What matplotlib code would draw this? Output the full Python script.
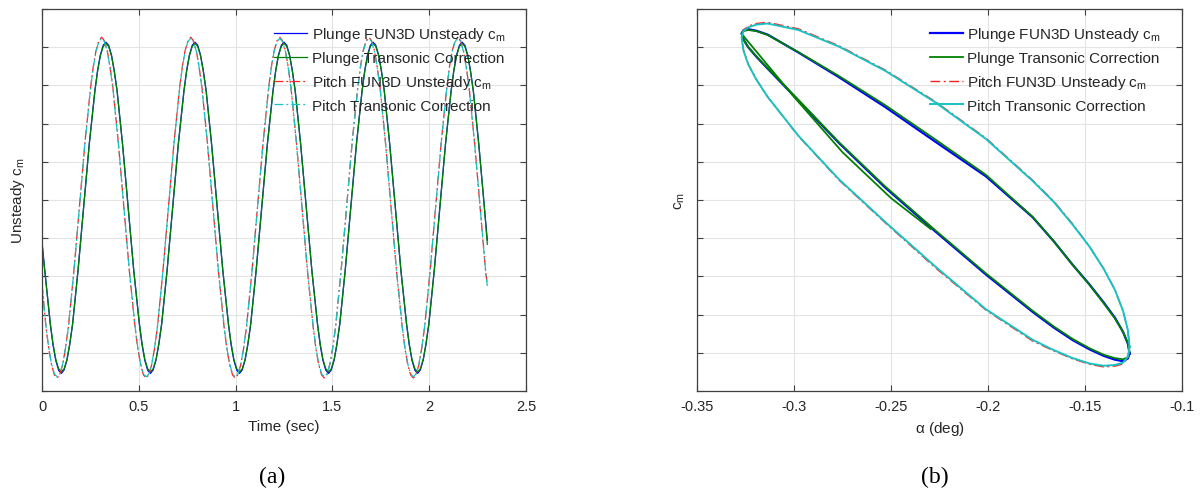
import numpy as np
import matplotlib
matplotlib.use('Agg')
import matplotlib.pyplot as plt

plt.rcParams['font.family'] = ['Liberation Sans', 'DejaVu Sans']
plt.rcParams['mathtext.default'] = 'regular'
plt.rcParams['axes.unicode_minus'] = False

# ---- (a) time history, cm in plot units (y tick labels are blank) ----
plunge_t = [0.000,
            0.014, 0.043, 0.057, 0.071, 0.086, 0.100, 0.114, 0.129, 0.143, 0.158, 0.186, 0.215, 0.244, 0.273, 0.287, 0.301, 0.316,
            0.330, 0.344, 0.359, 0.373, 0.388, 0.416, 0.445, 0.474, 0.503, 0.517, 0.531, 0.546,
            0.560, 0.574, 0.589, 0.603, 0.618, 0.646, 0.675, 0.704, 0.733, 0.747, 0.761, 0.776,
            0.790, 0.804, 0.819, 0.833, 0.848, 0.876, 0.905, 0.934, 0.963, 0.977, 0.991, 1.006,
            1.020, 1.034, 1.049, 1.063, 1.078, 1.106, 1.135, 1.164, 1.193, 1.207, 1.221, 1.236,
            1.250, 1.264, 1.279, 1.293, 1.308, 1.336, 1.365, 1.394, 1.423, 1.437, 1.451, 1.466,
            1.480, 1.494, 1.509, 1.523, 1.538, 1.566, 1.595, 1.624, 1.653, 1.667, 1.681, 1.696,
            1.710, 1.724, 1.739, 1.753, 1.768, 1.796, 1.825, 1.854, 1.883, 1.897, 1.911, 1.926,
            1.940, 1.954, 1.969, 1.983, 1.998, 2.026, 2.055, 2.084, 2.113, 2.127, 2.141, 2.156,
            2.170, 2.184, 2.199, 2.213, 2.228, 2.256, 2.285, 2.300]
plunge_fun3d = [3.90,
                3.17, 1.74, 1.20, 0.80, 0.54, 0.46, 0.55, 0.81, 1.21, 1.75, 3.16, 4.82, 6.47, 7.86, 8.39, 8.79, 9.05,
                9.13, 9.05, 8.79, 8.39, 7.85, 6.46, 4.80, 3.14, 1.74, 1.20, 0.80, 0.54,
                0.46, 0.55, 0.81, 1.21, 1.75, 3.16, 4.82, 6.47, 7.86, 8.39, 8.79, 9.05,
                9.13, 9.05, 8.79, 8.39, 7.85, 6.46, 4.80, 3.14, 1.74, 1.20, 0.80, 0.54,
                0.46, 0.55, 0.81, 1.21, 1.75, 3.16, 4.82, 6.47, 7.86, 8.39, 8.79, 9.05,
                9.13, 9.05, 8.79, 8.39, 7.85, 6.46, 4.80, 3.14, 1.74, 1.20, 0.80, 0.54,
                0.46, 0.55, 0.81, 1.21, 1.75, 3.16, 4.82, 6.47, 7.86, 8.39, 8.79, 9.05,
                9.13, 9.05, 8.79, 8.39, 7.85, 6.46, 4.80, 3.14, 1.74, 1.20, 0.80, 0.54,
                0.46, 0.55, 0.81, 1.21, 1.75, 3.16, 4.82, 6.47, 7.86, 8.39, 8.79, 9.05,
                9.13, 9.05, 8.79, 8.39, 7.85, 6.46, 4.80, 3.95]
plunge_tc = [3.84,
             3.15, 1.76, 1.23, 0.83, 0.58, 0.50, 0.58, 0.83, 1.23, 1.76, 3.15, 4.80, 6.45, 7.84, 8.37, 8.77, 9.02,
             9.10, 9.02, 8.77, 8.37, 7.84, 6.45, 4.80, 3.15, 1.76, 1.23, 0.83, 0.58,
             0.50, 0.58, 0.83, 1.23, 1.76, 3.15, 4.80, 6.45, 7.84, 8.37, 8.77, 9.02,
             9.10, 9.02, 8.77, 8.37, 7.84, 6.45, 4.80, 3.15, 1.76, 1.23, 0.83, 0.58,
             0.50, 0.58, 0.83, 1.23, 1.76, 3.15, 4.80, 6.45, 7.84, 8.37, 8.77, 9.02,
             9.10, 9.02, 8.77, 8.37, 7.84, 6.45, 4.80, 3.15, 1.76, 1.23, 0.83, 0.58,
             0.50, 0.58, 0.83, 1.23, 1.76, 3.15, 4.80, 6.45, 7.84, 8.37, 8.77, 9.02,
             9.10, 9.02, 8.77, 8.37, 7.84, 6.45, 4.80, 3.15, 1.76, 1.23, 0.83, 0.58,
             0.50, 0.58, 0.83, 1.23, 1.76, 3.15, 4.80, 6.45, 7.84, 8.37, 8.77, 9.02,
             9.10, 9.02, 8.77, 8.37, 7.84, 6.45, 4.80, 3.84]

pitch_t = [0.000,
           0.021, 0.035, 0.049, 0.064, 0.078, 0.092, 0.107, 0.121, 0.136, 0.164, 0.193, 0.222, 0.251, 0.265, 0.279, 0.294,
           0.308, 0.322, 0.337, 0.351, 0.366, 0.394, 0.423, 0.452, 0.481, 0.495, 0.509, 0.524,
           0.538, 0.552, 0.567, 0.581, 0.596, 0.624, 0.653, 0.682, 0.711, 0.725, 0.739, 0.754,
           0.768, 0.782, 0.797, 0.811, 0.826, 0.854, 0.883, 0.912, 0.941, 0.955, 0.969, 0.984,
           0.998, 1.012, 1.027, 1.041, 1.056, 1.084, 1.113, 1.142, 1.171, 1.185, 1.199, 1.214,
           1.228, 1.242, 1.257, 1.271, 1.286, 1.314, 1.343, 1.372, 1.401, 1.415, 1.429, 1.444,
           1.458, 1.472, 1.487, 1.501, 1.516, 1.544, 1.573, 1.602, 1.631, 1.645, 1.659, 1.674,
           1.688, 1.702, 1.717, 1.731, 1.746, 1.774, 1.803, 1.832, 1.861, 1.875, 1.889, 1.904,
           1.918, 1.932, 1.947, 1.961, 1.976, 2.004, 2.033, 2.062, 2.091, 2.105, 2.119, 2.134,
           2.148, 2.162, 2.177, 2.191, 2.206, 2.234, 2.263, 2.292, 2.300]
pitch_fun3d = [2.80,
               1.65, 1.10, 0.69, 0.42, 0.34, 0.43, 0.70, 1.11, 1.66, 3.11, 4.81, 6.52, 7.95, 8.50, 8.91, 9.17,
               9.26, 9.17, 8.91, 8.50, 7.95, 6.51, 4.80, 3.09, 1.65, 1.10, 0.69, 0.42,
               0.34, 0.43, 0.70, 1.11, 1.66, 3.11, 4.81, 6.52, 7.95, 8.50, 8.91, 9.17,
               9.26, 9.17, 8.91, 8.50, 7.95, 6.51, 4.80, 3.09, 1.65, 1.10, 0.69, 0.42,
               0.34, 0.43, 0.70, 1.11, 1.66, 3.11, 4.81, 6.52, 7.95, 8.50, 8.91, 9.17,
               9.26, 9.17, 8.91, 8.50, 7.95, 6.51, 4.80, 3.09, 1.65, 1.10, 0.69, 0.42,
               0.34, 0.43, 0.70, 1.11, 1.66, 3.11, 4.81, 6.52, 7.95, 8.50, 8.91, 9.17,
               9.26, 9.17, 8.91, 8.50, 7.95, 6.51, 4.80, 3.09, 1.65, 1.10, 0.69, 0.42,
               0.34, 0.43, 0.70, 1.11, 1.66, 3.11, 4.81, 6.52, 7.95, 8.50, 8.91, 9.17,
               9.26, 9.17, 8.91, 8.50, 7.95, 6.51, 4.80, 3.09, 2.80]
pitch_tc = [2.75,
            1.67, 1.12, 0.71, 0.45, 0.37, 0.45, 0.71, 1.12, 1.67, 3.10, 4.80, 6.50, 7.93, 8.48, 8.89, 9.15,
            9.23, 9.15, 8.89, 8.48, 7.93, 6.50, 4.80, 3.10, 1.67, 1.12, 0.71, 0.45,
            0.37, 0.45, 0.71, 1.12, 1.67, 3.10, 4.80, 6.50, 7.93, 8.48, 8.89, 9.15,
            9.23, 9.15, 8.89, 8.48, 7.93, 6.50, 4.80, 3.10, 1.67, 1.12, 0.71, 0.45,
            0.37, 0.45, 0.71, 1.12, 1.67, 3.10, 4.80, 6.50, 7.93, 8.48, 8.89, 9.15,
            9.23, 9.15, 8.89, 8.48, 7.93, 6.50, 4.80, 3.10, 1.67, 1.12, 0.71, 0.45,
            0.37, 0.45, 0.71, 1.12, 1.67, 3.10, 4.80, 6.50, 7.93, 8.48, 8.89, 9.15,
            9.23, 9.15, 8.89, 8.48, 7.93, 6.50, 4.80, 3.10, 1.67, 1.12, 0.71, 0.45,
            0.37, 0.45, 0.71, 1.12, 1.67, 3.10, 4.80, 6.50, 7.93, 8.48, 8.89, 9.15,
            9.23, 9.15, 8.89, 8.48, 7.93, 6.50, 4.80, 3.10, 2.75]

# ---- (b) cm vs alpha loops (one closed loop, denser near the tips) ----
alpha_loop = [-0.1270, -0.1279, -0.1304, -0.1346, -0.1404, -0.1477, -0.1563, -0.1661, -0.1770,
              -0.2011, -0.2270, -0.2529, -0.2770, -0.2977, -0.3136,
              -0.3194, -0.3236, -0.3261, -0.3270, -0.3261, -0.3236, -0.3194, -0.3136,
              -0.2977, -0.2770, -0.2529, -0.2270, -0.2011, -0.1770,
              -0.1661, -0.1563, -0.1477, -0.1404, -0.1346, -0.1304, -0.1279, -0.1270]
cm_pitch_tc = [1.15, 0.90, 0.74, 0.68, 0.66, 0.72, 0.86, 1.07, 1.34,
               2.14, 3.25, 4.42, 5.55, 6.68, 7.70,
               8.15, 8.55, 8.92, 9.25, 9.42, 9.52, 9.59, 9.62,
               9.45, 9.02, 8.38, 7.55, 6.60, 5.50,
               4.95, 4.35, 3.78, 3.20, 2.65, 2.10, 1.60, 1.15]
cm_pitch_fun3d = [1.13, 0.87, 0.71, 0.65, 0.63, 0.70, 0.84, 1.05, 1.31,
                  2.12, 3.22, 4.40, 5.53, 6.67, 7.70,
                  8.16, 8.56, 8.94, 9.27, 9.45, 9.55, 9.62, 9.65,
                  9.48, 9.04, 8.40, 7.57, 6.62, 5.52,
                  4.97, 4.37, 3.79, 3.21, 2.66, 2.10, 1.59, 1.13]
cm_plunge_fun3d = [0.98, 0.85, 0.78, 0.82, 0.92, 1.09, 1.33, 1.66, 2.07,
                   3.05, 4.17, 5.32, 6.50, 7.60, 8.44,
                   8.75, 9.00, 9.21, 9.36, 9.44, 9.47, 9.43, 9.33,
                   8.86, 8.22, 7.43, 6.52, 5.62, 4.55,
                   3.92, 3.30, 2.79, 2.32, 1.92, 1.55, 1.24, 0.98]
# plunge correction: start-up segment, then the loop from the left tip
alpha_plunge_tc = [-0.2295, -0.2500, -0.2750, -0.3000,
                   -0.3270, -0.3261, -0.3236, -0.3194, -0.3136, -0.2977, -0.2770, -0.2529, -0.2270,
                   -0.2011, -0.1770, -0.1661, -0.1563, -0.1477, -0.1404, -0.1346, -0.1304, -0.1279, -0.1270,
                   -0.1279, -0.1304, -0.1346, -0.1404, -0.1477, -0.1563, -0.1661, -0.1770, -0.2011,
                   -0.2270, -0.2529, -0.2770, -0.2977, -0.3136, -0.3194, -0.3236, -0.3261, -0.3270]
cm_plunge_tc = [4.24, 5.05, 6.25, 7.70,
                9.35, 9.42, 9.45, 9.42, 9.32, 8.87, 8.25, 7.48, 6.58,
                5.66, 4.56, 3.92, 3.30, 2.78, 2.30, 1.90, 1.55, 1.25, 1.00,
                0.88, 0.83, 0.86, 0.95, 1.12, 1.36, 1.69, 2.10, 3.08,
                4.20, 5.35, 6.52, 7.62, 8.45, 8.76, 9.00, 9.20, 9.35]

labels = ['Plunge FUN3D Unsteady c$_m$', 'Plunge Transonic Correction',
          'Pitch FUN3D Unsteady c$_m$', 'Pitch Transonic Correction']
xt_a = [0, 0.5, 1, 1.5, 2, 2.5]
xt_a_lab = ['0', '0.5', '1', '1.5', '2', '2.5']
xt_b = [-0.35, -0.3, -0.25, -0.2, -0.15, -0.1]
xt_b_lab = ['-0.35', '-0.3', '-0.25', '-0.2', '-0.15', '-0.1']

blue = '#0000ff'
green = '#008000'
red = '#ff2020'
cyan = '#19c2c2'
dd = (0, (7, 2.5, 1.5, 2.5))
txt = '#262626'

fig = plt.figure(figsize=(12.04, 4.89), dpi=100)
ax1 = fig.add_axes([0.0349, 0.1984, 0.4020, 0.7812])
ax2 = fig.add_axes([0.5789, 0.1984, 0.4028, 0.7812])


def style(ax, xt, xl, xlim):
    ax.set_xlim(xlim)
    ax.set_ylim(0, 10)
    ax.set_xticks(xt)
    ax.set_xticklabels(xl)
    ax.set_yticks(range(11))
    ax.set_yticklabels([])
    ax.grid(True, color='#e3e3e3', lw=0.8)
    ax.set_axisbelow(True)
    ax.tick_params(direction='in', length=4, width=0.8, color='#404040', top=True, right=True,
                   labelsize=10.5, labelcolor=txt, pad=6)
    for s in ax.spines.values():
        s.set_color('#404040')
        s.set_linewidth(0.9)


ax1.plot(plunge_t, plunge_fun3d, color=blue, lw=0.9, label=labels[0])
ax1.plot(plunge_t, plunge_tc, color=green, lw=0.9, label=labels[1])
ax1.plot(pitch_t, pitch_fun3d, color=red, lw=0.9, ls=dd, label=labels[2])
ax1.plot(pitch_t, pitch_tc, color=cyan, lw=0.9, ls=dd, label=labels[3])
style(ax1, xt_a, xt_a_lab, (0, 2.5))
ax1.set_xlabel('Time (sec)', fontsize=11, color=txt, labelpad=4)
ax1.set_ylabel('Unsteady c$_m$', fontsize=11, color=txt)
ax1.yaxis.set_label_coords(-0.030, 0.5)

ax2.plot(alpha_loop, cm_plunge_fun3d, color=blue, lw=1.6, label=labels[0])
ax2.plot(alpha_plunge_tc, cm_plunge_tc, color=green, lw=1.3, label=labels[1])
ax2.plot(alpha_loop, cm_pitch_fun3d, color=red, lw=1.0, ls=dd, label=labels[2])
ax2.plot(alpha_loop, cm_pitch_tc, color=cyan, lw=1.4, label=labels[3])
style(ax2, xt_b, xt_b_lab, (-0.35, -0.1))
ax2.set_xlabel(r'$\alpha$ (deg)', fontsize=11, color=txt, labelpad=4)
ax2.set_ylabel('c$_m$', fontsize=11, color=txt)
ax2.yaxis.set_label_coords(-0.021, 0.5)

for ax in (ax1, ax2):
    leg = ax.legend(loc='upper left', bbox_to_anchor=(0.48, 0.957), frameon=False, fontsize=11,
                    handlelength=2.15, handletextpad=0.3, labelspacing=0.51, borderpad=0, borderaxespad=0)
    for t in leg.get_texts():
        t.set_color(txt)

fig.text(272 / 1204, 1 - 477 / 489, '(a)', fontsize=17, family='Liberation Serif', ha='center', va='center')
fig.text(935 / 1204, 1 - 477 / 489, '(b)', fontsize=17, family='Liberation Serif', ha='center', va='center')

fig.savefig('out.png', dpi=100)
